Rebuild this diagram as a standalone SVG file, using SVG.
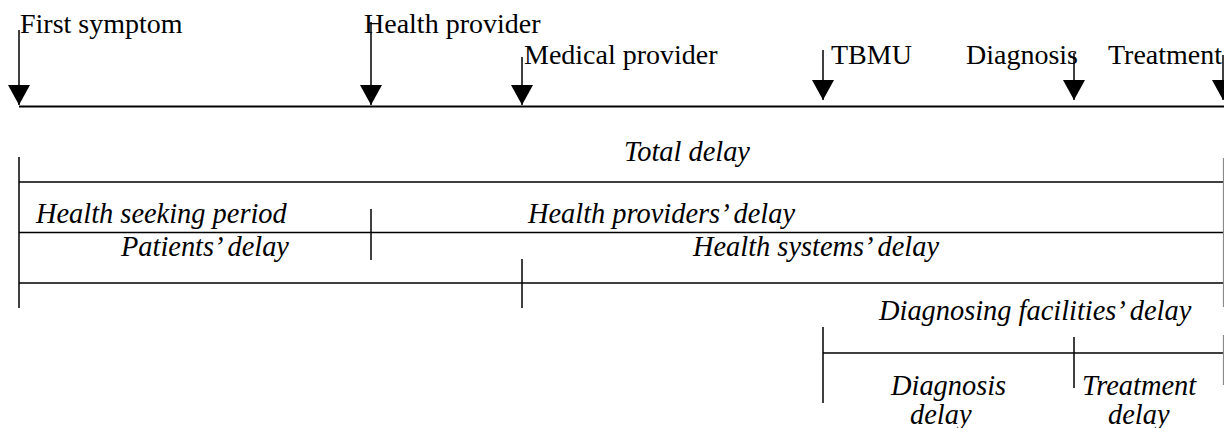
<svg xmlns="http://www.w3.org/2000/svg" width="1224" height="428" viewBox="0 0 1224 428">
  <style>
    .lbl { font-family: "Liberation Serif", "Times New Roman", serif; font-size: 28px; fill: #000; }
    .it { font-style: italic; font-size: 28.4px; }
    .ln { stroke: #000; stroke-width: 1.5; fill: none; }
    .tl { stroke: #000; stroke-width: 2.2; fill: none; }
    .arr { stroke: #000; stroke-width: 1.5; fill: none; marker-end: url(#ah); }
    .edge { stroke: #8a8a8a; stroke-width: 1.2; fill: none; }
  </style>
  <defs>
    <marker id="ah" viewBox="0 0 20 22" refX="20" refY="11" markerWidth="20" markerHeight="22" markerUnits="userSpaceOnUse" orient="auto">
      <path d="M0,0 L20,11 L0,22 Z" fill="#000"/>
    </marker>
  </defs>
  <rect width="1224" height="428" fill="#fff"/>

  <g id="connectors">
    <line class="tl" x1="19" y1="106.5" x2="1224" y2="106.5"/>
    <line class="ln" x1="19" y1="182" x2="1224" y2="182"/>
    <line class="ln" x1="19" y1="232.5" x2="1224" y2="232.5"/>
    <line class="ln" x1="19" y1="283" x2="1224" y2="283"/>
    <line class="ln" x1="823" y1="353" x2="1224" y2="353"/>
    <line class="ln" x1="19" y1="157" x2="19" y2="308"/>
    <line class="ln" x1="371" y1="209" x2="371" y2="260"/>
    <line class="ln" x1="522" y1="259" x2="522" y2="308"/>
    <line class="ln" x1="823" y1="327" x2="823" y2="403"/>
    <line class="ln" x1="1074" y1="337" x2="1074" y2="388"/>
    <line class="edge" x1="1223.5" y1="158" x2="1223.5" y2="307"/>
    <line class="edge" x1="1223.5" y1="335" x2="1223.5" y2="385"/>
  </g>

  <g id="first-symptom">
    <line class="arr" x1="19" y1="30" x2="19" y2="105"/>
    <text class="lbl" x="20" y="33">First symptom</text>
  </g>
  <g id="health-provider">
    <line class="arr" x1="371" y1="22" x2="371" y2="105"/>
    <text class="lbl" x="364" y="33">Health provider</text>
  </g>
  <g id="medical-provider">
    <line class="arr" x1="522" y1="57" x2="522" y2="105"/>
    <text class="lbl" x="524" y="64">Medical provider</text>
  </g>
  <g id="tbmu">
    <line class="arr" x1="823" y1="50" x2="823" y2="100"/>
    <text class="lbl" x="831" y="64">TBMU</text>
  </g>
  <g id="diagnosis">
    <line class="arr" x1="1074" y1="53" x2="1074" y2="100"/>
    <text class="lbl" x="966" y="64">Diagnosis</text>
  </g>
  <g id="treatment">
    <line class="arr" x1="1223" y1="55" x2="1223" y2="100"/>
    <text class="lbl" x="1108" y="64">Treatment</text>
  </g>

  <g id="total-delay">
    <text class="lbl it" x="624" y="161">Total delay</text>
  </g>
  <g id="health-seeking-period">
    <text class="lbl it" x="36" y="223">Health seeking period</text>
  </g>
  <g id="health-providers-delay">
    <text class="lbl it" x="528" y="223">Health providers’ delay</text>
  </g>
  <g id="patients-delay">
    <text class="lbl it" x="121" y="256">Patients’ delay</text>
  </g>
  <g id="health-systems-delay">
    <text class="lbl it" x="693" y="256">Health systems’ delay</text>
  </g>
  <g id="diagnosing-facilities-delay">
    <text class="lbl it" x="879" y="320">Diagnosing facilities’ delay</text>
  </g>
  <g id="diagnosis-delay">
    <text class="lbl it" x="891" y="395">Diagnosis</text>
    <text class="lbl it" x="910" y="424">delay</text>
  </g>
  <g id="treatment-delay">
    <text class="lbl it" x="1082" y="395">Treatment</text>
    <text class="lbl it" x="1108" y="424">delay</text>
  </g>
</svg>
